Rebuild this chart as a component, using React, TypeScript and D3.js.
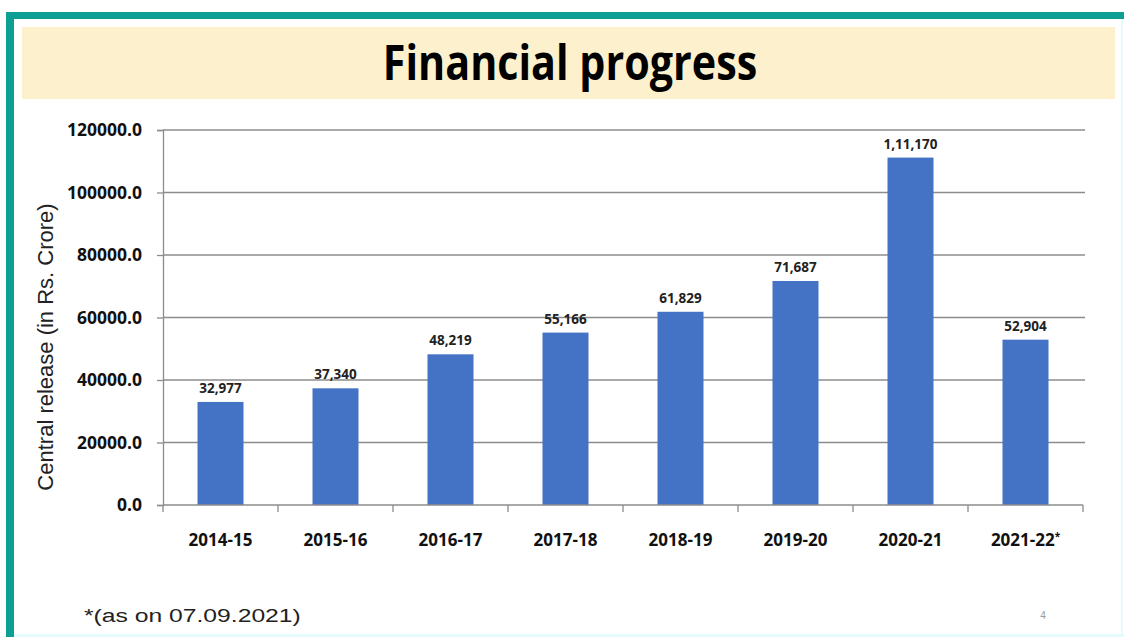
import React, { useEffect, useRef } from "react";
import * as d3 from "d3";

const years = ["2014-15", "2015-16", "2016-17", "2017-18", "2018-19", "2019-20", "2020-21", "2021-22"];
const releases = [32977, 37340, 48219, 55166, 61829, 71687, 111170, 52904];
const valueLabels = ["32,977", "37,340", "48,219", "55,166", "61,829", "71,687", "1,11,170", "52,904"];
const yTicks = [0, 20000, 40000, 60000, 80000, 100000, 120000];

const W = 1124;
const H = 637;
const BOLD = "'Open Sans', 'DejaVu Sans', sans-serif";
const PLAIN = "'Liberation Sans', Arial, sans-serif";

export default function App() {
  const svgRef = useRef<SVGSVGElement>(null);

  useEffect(() => {
    if (!svgRef.current) return;
    const svg = d3.select(svgRef.current);
    svg.selectAll("*").remove();

    // frame
    svg.append("rect").attr("width", W).attr("height", H).attr("fill", "#fff");
    svg.append("rect").attr("x", 6).attr("y", 12).attr("width", W - 6).attr("height", 7).attr("fill", "#0d9e94");
    svg.append("rect").attr("x", 6).attr("y", 12).attr("width", 8).attr("height", H - 12).attr("fill", "#0d9e94");
    svg.append("rect").attr("x", 1121).attr("y", 19).attr("width", 2).attr("height", H - 19).attr("fill", "#e6fbfb");
    svg.append("rect").attr("x", 14).attr("y", 634).attr("width", W - 14).attr("height", 3).attr("fill", "#e6fbfb");

    // title band
    svg.append("rect").attr("x", 22).attr("y", 27).attr("width", 1093).attr("height", 72).attr("fill", "#fdf0cc");
    svg.append("text")
      .attr("transform", "translate(570,80) scale(0.86,1)")
      .attr("text-anchor", "middle")
      .style("font-family", BOLD).style("font-weight", 700).style("font-size", "48px")
      .attr("fill", "#000")
      .text("Financial progress");

    const left = 163, right = 1083, top = 130, bottom = 505;

    const x = d3.scaleBand<string>().domain(years).range([left, right]).paddingInner(0.6).paddingOuter(0.3);
    const y = d3.scaleLinear().domain([0, 120000]).range([bottom, top]);

    const g = svg.append("g");

    // gridlines
    g.selectAll(".grid").data(yTicks.slice(1)).enter().append("line")
      .attr("x1", left).attr("x2", 1085)
      .attr("y1", (d) => y(d)).attr("y2", (d) => y(d))
      .attr("stroke", "#8c8c8c").attr("stroke-width", 1.3);

    // y axis
    const yAxis = g.append("g").attr("transform", `translate(${left},0)`)
      .call(d3.axisLeft(y).tickValues(yTicks).tickSize(6).tickFormat((d) => (+d).toFixed(1)));
    yAxis.selectAll("path, line").attr("stroke", "#8c8c8c").attr("stroke-width", 1.3);
    yAxis.selectAll("text")
      .attr("x", -21)
      .style("font-family", BOLD).style("font-weight", 700).style("font-size", "17.5px").attr("fill", "#111");

    // bars
    g.selectAll(".bar").data(releases).enter().append("rect")
      .attr("x", (_, i) => x(years[i]) || 0)
      .attr("y", (d) => y(d))
      .attr("width", x.bandwidth())
      .attr("height", (d) => bottom - y(d))
      .attr("fill", "#4472c4");

    // value labels
    g.selectAll(".val").data(releases).enter().append("text")
      .attr("x", (_, i) => (x(years[i]) || 0) + x.bandwidth() / 2)
      .attr("y", (d) => y(d) - 9)
      .attr("text-anchor", "middle")
      .style("font-family", BOLD).style("font-weight", 700).style("font-size", "13.5px").attr("fill", "#222")
      .text((_, i) => valueLabels[i]);

    // x axis
    const step = x.step();
    const xa = g.append("g");
    xa.append("line").attr("x1", left).attr("x2", right).attr("y1", bottom).attr("y2", bottom)
      .attr("stroke", "#8c8c8c").attr("stroke-width", 1.3);
    xa.selectAll(".xt").data(d3.range(years.length + 1)).enter().append("line")
      .attr("x1", (i) => left + i * step).attr("x2", (i) => left + i * step)
      .attr("y1", bottom).attr("y2", bottom + 7)
      .attr("stroke", "#8c8c8c").attr("stroke-width", 1.3);
    xa.selectAll(".xl").data(years).enter().append("text")
      .attr("x", (d) => (x(d) || 0) + x.bandwidth() / 2)
      .attr("y", 546)
      .attr("text-anchor", "middle")
      .style("font-family", BOLD).style("font-weight", 700).style("font-size", "17px").attr("fill", "#111")
      .text((d) => d)
      .filter((_, i) => i === years.length - 1)
      .append("tspan").attr("dy", -6).style("font-size", "10px").text("*");

    // y title
    svg.append("text")
      .attr("transform", `translate(53,347) rotate(-90)`)
      .attr("text-anchor", "middle")
      .style("font-family", PLAIN).style("font-size", "22px").attr("fill", "#222")
      .text("Central release (in Rs. Crore)");

    // footnote
    svg.append("text").attr("transform", "translate(84,622) scale(1.3,1)")
      .style("font-family", PLAIN).style("font-size", "19px").attr("fill", "#222")
      .text("*(as on 07.09.2021)");
    svg.append("text").attr("x", 1043).attr("y", 619)
      .attr("text-anchor", "middle")
      .style("font-family", PLAIN).style("font-size", "10px").attr("fill", "#999")
      .text("4");
  }, []);

  return (
    <svg
      ref={svgRef}
      width={W}
      height={H}
      style={{ position: "absolute", left: 0, top: 0 }}
    />
  );
}
